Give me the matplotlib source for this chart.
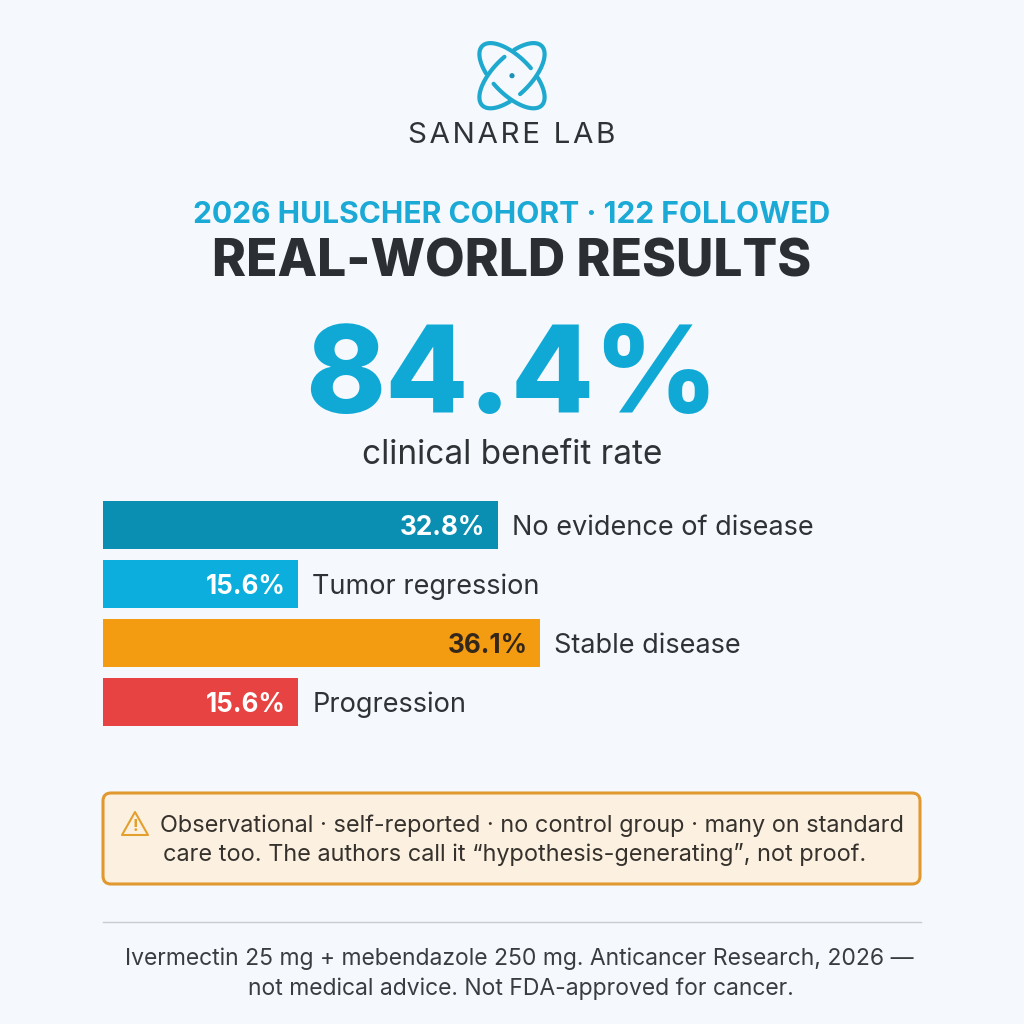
import numpy as np
import matplotlib
matplotlib.use("Agg")
import matplotlib.pyplot as plt
from matplotlib.patches import FancyBboxPatch, Polygon, Circle

plt.rcParams['font.family'] = ['Inter', 'DejaVu Sans']

# Data
categories = ["No evidence of disease", "Tumor regression", "Stable disease", "Progression"]
value_labels = ["32.8%", "15.6%", "36.1%", "15.6%"]
# bar lengths as measured in the picture (the short bars are drawn a bit longer than their label)
bar_lengths = [32.8, 16.25, 36.3, 16.25]
bar_colors = ["#0A8FB3", "#0BAEDC", "#F39C12", "#E84343"]
value_colors = ["white", "white", "#33261A", "white"]

BG = "#F5F9FD"
W = 1024

fig = plt.figure(figsize=(10.24, 10.24), dpi=100, facecolor=BG)

# page axes in pixel coordinates
page = fig.add_axes([0, 0, 1, 1])
page.set_xlim(0, W)
page.set_ylim(W, 0)
page.axis("off")


def arc(cx, cy, angle, t0, t1):
    # one stroke of the logo orbit, y points down
    a, b = 42, 19
    t = np.radians(np.linspace(t0, t1, 80))
    ang = np.radians(angle)
    x = cx + a * np.cos(t) * np.cos(ang) - b * np.sin(t) * np.sin(ang)
    y = cy + a * np.cos(t) * np.sin(ang) + b * np.sin(t) * np.cos(ang)
    page.plot(x, y, color="#1FA9CF", lw=3.0, solid_capstyle="round")


# logo
for angle in (45, -45):
    arc(512, 75.7, angle, -62, 100)
    arc(512, 75.7, angle, 118, 281)
page.add_patch(Circle((512, 75.7), 2.6, color="#1B93B5", lw=0))
page.text(512, 135.5, "\u200a".join("SANARE LAB"), ha="center", va="center", fontsize=21.3,
          color="#2F3336", fontweight="normal")

# headings
page.text(512, 215, "2026 HULSCHER COHORT · 122 FOLLOWED", ha="center", va="center",
          fontsize=21.6, color="#1BA9D6", fontweight="bold")
page.text(512, 263, "REAL-WORLD RESULTS", ha="center", va="center",
          fontsize=37.1, color="#2B2E33", fontweight=800)
page.text(512, 381, "84.4%", ha="center", va="center",
          fontsize=87, color="#10A9D6", fontweight=800)
page.text(512, 455, "clinical benefit rate", ha="center", va="center",
          fontsize=24, color="#2F3336")

# bars, 12.06 px per percent point
px_per_unit = 12.06
left = 102.5
pitch = 59
bar_h = 48 / pitch
top = 501
bottom = 726
ax = fig.add_axes([left / W, 1 - bottom / W, (W - left) / W, (bottom - top) / W])
ax.set_facecolor("none")
ax.set_xlim(0, (W - left) / px_per_unit)
ax.set_ylim(3 + bar_h / 2, -bar_h / 2)
ax.axis("off")

ypos = np.arange(len(categories))
ax.barh(ypos, bar_lengths, height=bar_h, color=bar_colors)
for i in ypos:
    ax.annotate(value_labels[i], (bar_lengths[i], i), xytext=(-9, -2), textcoords="offset points",
                ha="right", va="center", fontsize=18.8, fontweight="bold", color=value_colors[i])
    ax.annotate(categories[i], (bar_lengths[i], i), xytext=(10, -2), textcoords="offset points",
                ha="left", va="center", fontsize=19.5, color="#2F3336")

# caution box
page.add_patch(FancyBboxPatch((111, 801), 801, 75, boxstyle="round,pad=8,rounding_size=8",
                              facecolor="#FCF1E1", edgecolor="#E0982F", lw=2.2))
page.add_patch(Polygon([(135, 812), (148, 835), (122, 835)], closed=True, fill=False,
                       edgecolor="#E3A02F", lw=1.5, joinstyle="round"))
page.text(135, 826.5, "!", ha="center", va="center", fontsize=12, color="#E3A02F", fontweight="bold")
page.text(160, 826, "Observational · self-reported · no control group · many on standard",
          ha="left", va="center", fontsize=16.9, color="#35312C")
page.text(163, 854, "care too. The authors call it “hypothesis-generating”, not proof.",
          ha="left", va="center", fontsize=16.9, color="#35312C")

# footer
page.plot([103, 921], [922, 922], color="#C9CDD1", lw=1.0)
page.text(519, 959, "Ivermectin 25 mg + mebendazole 250 mg. Anticancer Research, 2026 —",
          ha="center", va="center", fontsize=16.5, color="#3A3D40")
page.text(521, 989, "not medical advice. Not FDA-approved for cancer.",
          ha="center", va="center", fontsize=16.5, color="#3A3D40")

fig.savefig("out.png", dpi=100, facecolor=BG)
